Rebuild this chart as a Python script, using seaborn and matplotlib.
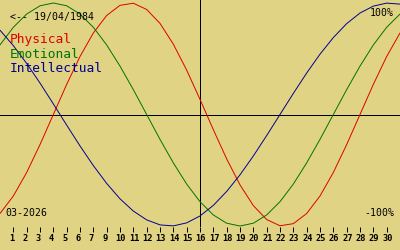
import numpy as np
import pandas as pd
import matplotlib
matplotlib.use("Agg")
import matplotlib.pyplot as plt
import matplotlib.transforms as mtransforms
import seaborn as sns

# ---- data (one per day from 1 March) ----
days = list(range(0, 31))
physical = [-0.888, -0.731, -0.520, -0.270, 0.000, 0.270, 0.520, 0.731, 0.888, 0.979,
            0.998, 0.942, 0.817, 0.631, 0.398, 0.136, -0.136, -0.398, -0.631, -0.817,
            -0.942, -0.998, -0.979, -0.888, -0.731, -0.520, -0.270, 0.000, 0.270, 0.520,
            0.731]
emotional = [0.624, 0.782, 0.901, 0.975, 1.000, 0.975, 0.901, 0.782, 0.624, 0.434,
             0.223, 0.000, -0.223, -0.434, -0.624, -0.782, -0.901, -0.975, -1.000, -0.975,
             -0.901, -0.782, -0.624, -0.434, -0.223, 0.000, 0.223, 0.434, 0.624, 0.782,
             0.901]
intellectual = [0.756, 0.618, 0.458, 0.282, 0.095, -0.095, -0.282, -0.458, -0.618, -0.756,
                -0.866, -0.945, -0.990, -0.999, -0.972, -0.910, -0.815, -0.690, -0.541, -0.372,
                -0.189, 0.000, 0.189, 0.372, 0.541, 0.690, 0.815, 0.910, 0.972, 0.999,
                0.990]
series_names = ["Physical", "Emotional", "Intellectual"]
series_colors = ["#DC0000", "#007400", "#000090"]
tick_labels = ["1", "2", "3", "4", "5", "6", "7", "9", "10", "11", "12", "13", "14", "15",
               "16", "17", "18", "19", "20", "21", "22", "23", "24", "25", "26", "27", "28",
               "29", "30"]
today_label = "16"
birth_text = "<-- 19/04/1984"
month_text = "03-2026"
top_text = "100%"
bottom_text = "-100%"

BG = "#E1D384"

sns.set_style("white", {"axes.facecolor": BG, "figure.facecolor": BG})
plt.rcParams["font.family"] = ["DejaVu Sans Mono", "DejaVu Sans"]

df = pd.DataFrame({
    "day": days * 3,
    "value": physical + emotional + intellectual,
    "series": [series_names[0]] * len(days) + [series_names[1]] * len(days)
              + [series_names[2]] * len(days),
})

W, H = 400, 250
fig = plt.figure(figsize=(W / 100, H / 100), dpi=100, facecolor=BG)
ax_bottom_px = 227
ax = fig.add_axes([0, 1 - ax_bottom_px / H, 1, ax_bottom_px / H])
ax.set_facecolor(BG)

center_px, amp_px = 114.5, 111.5
ax.set_xlim(0, 30)
ax.set_ylim((center_px - ax_bottom_px) / amp_px, center_px / amp_px)

sns.lineplot(data=df, x="day", y="value", hue="series",
             palette=dict(zip(series_names, series_colors)),
             legend=False, linewidth=0.7, ax=ax, antialiased=True, zorder=3)

tick_pos = np.arange(1, len(tick_labels) + 1)
today_pos = tick_pos[tick_labels.index(today_label)]
ax.axhline(0, color="black", linewidth=0.7, zorder=2, antialiased=False)
ax.axvline(today_pos, color="black", linewidth=0.7, zorder=2, antialiased=False)

for s in ax.spines.values():
    s.set_visible(False)
ax.set_xticks(tick_pos)
ax.set_yticks([])
ax.tick_params(axis="x", direction="out", length=3.8, width=0.7, color="black",
               labelbottom=False, bottom=True)
ax.set_xlabel("")
ax.set_ylabel("")

# tick labels
blend = mtransforms.blended_transform_factory(ax.transData, fig.transFigure)
lab_tr = mtransforms.offset_copy(blend, fig=fig, x=-4.5, y=0, units="dots")
for p, t in zip(tick_pos, tick_labels):
    fig.text(p, 1 - 241 / H, t, transform=lab_tr, ha="left", va="baseline",
             fontsize=6.2, fontweight="bold", color="black")

def ftext(x, y, s, **kw):
    fig.text(x / W, 1 - y / H, s, va="baseline", **kw)

ftext(10, 20, birth_text, ha="left", fontsize=7.1, color="black")
for i, (name, col) in enumerate(zip(series_names, series_colors)):
    ftext(10, 42.7 + 14.8 * i, name, ha="left", fontsize=9.3, color=col)
ftext(394, 16, top_text, ha="right", fontsize=7.1, color="black")
ftext(394, 216, bottom_text, ha="right", fontsize=7.1, color="black")
ftext(5, 216, month_text, ha="left", fontsize=7.1, color="black")

fig.savefig("out.png", dpi=100, facecolor=BG)
